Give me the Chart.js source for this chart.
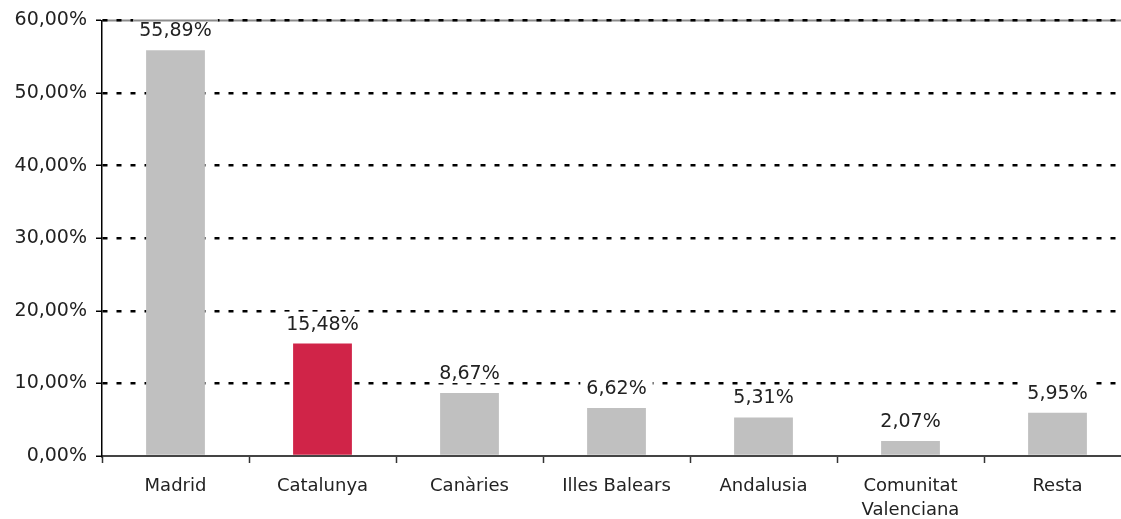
<!DOCTYPE html>
<html>
<head>
<meta charset="utf-8">
<script src="https://cdn.jsdelivr.net/npm/chart.js@4"></script>
<style>
  html, body { margin: 0; padding: 0; background: #fff; overflow: hidden; }
  #wrap { width: 1131px; height: 519px; position: relative; }
</style>
</head>
<body>
<div id="wrap"><canvas id="shareChart"></canvas></div>
<script>
const regions = ['Madrid', 'Catalunya', 'Canàries', 'Illes Balears', 'Andalusia', ['Comunitat', 'Valenciana'], 'Resta'];
const shares = [55.89, 15.48, 8.67, 6.62, 5.31, 2.07, 5.95];
const barColors = ['#c0c0c0', '#d02448', '#c0c0c0', '#c0c0c0', '#c0c0c0', '#c0c0c0', '#c0c0c0'];
const yTicks = [0, 10, 20, 30, 40, 50, 60];

const FONT = 'DejaVu Sans, Verdana, sans-serif';
const BORDER_GRAY = '#8c8c8c';

function pct(v) {
  return v.toFixed(2).replace('.', ',') + '%';
}

function grayTop(ctx, x1, x2, y) {
  ctx.save();
  ctx.strokeStyle = BORDER_GRAY;
  ctx.lineWidth = 2;
  ctx.setLineDash([]);
  ctx.beginPath();
  ctx.moveTo(x1, y);
  ctx.lineTo(x2, y);
  ctx.stroke();
  ctx.restore();
}

// gray plot border under the top dotted gridline
const topLine = {
  id: 'topLine',
  beforeDraw(chart) {
    const { ctx, chartArea } = chart;
    grayTop(ctx, chartArea.left, chartArea.right, chartArea.top);
  }
};

// value labels above bars, on a white box
const valueLabels = {
  id: 'valueLabels',
  afterDatasetsDraw(chart) {
    const ctx = chart.ctx;
    const top = chart.chartArea.top;
    const meta = chart.getDatasetMeta(0);
    ctx.save();
    ctx.font = '19px ' + FONT;
    ctx.textAlign = 'center';
    ctx.textBaseline = 'alphabetic';
    meta.data.forEach((bar, i) => {
      const txt = pct(shares[i]);
      const w = ctx.measureText(txt).width;
      const base = bar.y - 14;
      const bx = bar.x - w / 2 - 6;
      const by = base - 18;
      ctx.fillStyle = '#fff';
      ctx.fillRect(bx, by, w + 12, 22);
      if (by <= top + 1.5) grayTop(ctx, bx, bx + w + 12, top);
      ctx.fillStyle = '#222';
      ctx.fillText(txt, bar.x, base);
    });
    ctx.restore();
  }
};

const ctx = document.getElementById('shareChart').getContext('2d');
const chart = new Chart(ctx, {
  type: 'bar',
  data: {
    labels: regions,
    datasets: [{
      data: shares,
      backgroundColor: barColors,
      borderWidth: 0,
      barPercentage: 0.4,
      categoryPercentage: 1.0
    }]
  },
  options: {
    responsive: true,
    maintainAspectRatio: false,
    animation: false,
    layout: { padding: { top: 19, right: 0, bottom: 0, left: 0 } },
    plugins: {
      legend: { display: false },
      tooltip: { enabled: false }
    },
    scales: {
      x: {
        grid: {
          offset: true,
          drawOnChartArea: false,
          drawTicks: true,
          tickLength: 7,
          tickColor: '#333',
          tickWidth: 1.5
        },
        border: { color: '#444', width: 2 },
        ticks: {
          color: '#222',
          font: { family: FONT, size: 18, lineHeight: 1.3 },
          padding: 12,
          maxRotation: 0,
          autoSkip: false
        },
        afterFit(scale) { scale.height = 63; }
      },
      y: {
        min: 0,
        max: 60,
        afterBuildTicks(scale) { scale.ticks = yTicks.map(v => ({ value: v })); },
        grid: {
          color: c => (c.tick && c.tick.value === 0 ? 'rgba(0,0,0,0)' : '#000'),
          lineWidth: 2.5,
          drawTicks: true,
          tickLength: 6,
          tickColor: '#000',
          tickWidth: 1.5,
          tickBorderDash: []
        },
        border: { color: '#000', width: 1.5, dash: [5, 9] },
        ticks: {
          color: '#222',
          font: { family: FONT, size: 19 },
          padding: 9,
          callback: v => pct(v)
        },
        afterFit(scale) { scale.width = 102; }
      }
    }
  },
  plugins: [topLine, valueLabels]
});
</script>
</body>
</html>
